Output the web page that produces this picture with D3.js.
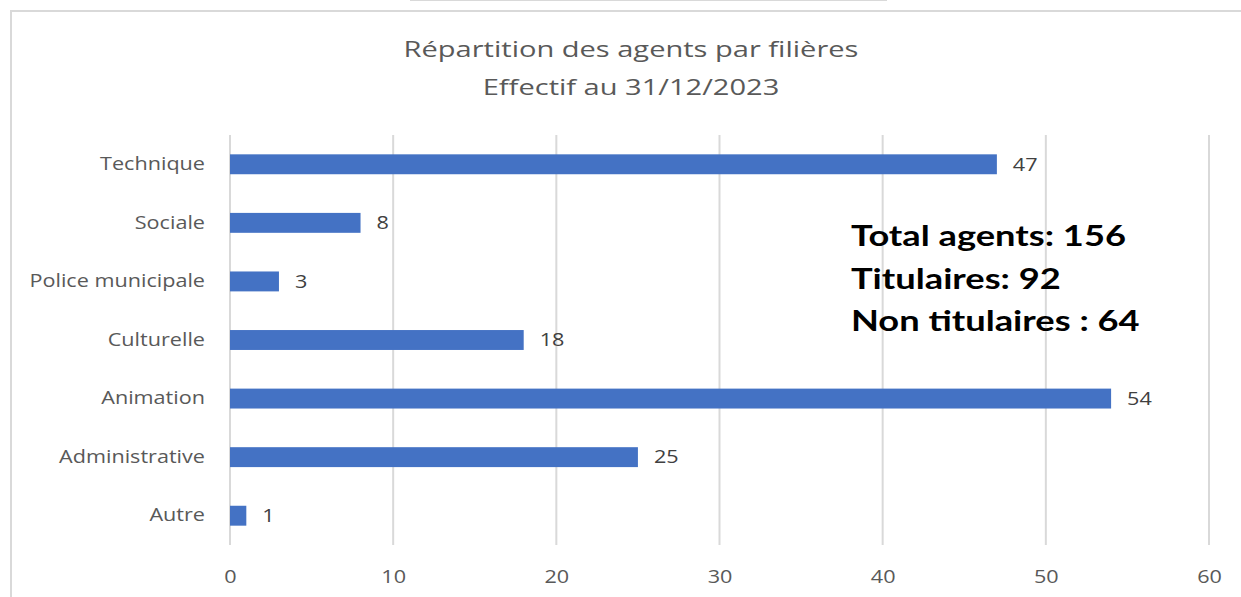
<!DOCTYPE html>
<html>
<head>
<meta charset="utf-8">
<script src="https://cdn.jsdelivr.net/npm/d3@7"></script>
<style>
    body { margin: 0; background: #fff; }
    #chart { width: 1241px; height: 597px; }
    text { font-family: "Open Sans", "Noto Sans", sans-serif; }
</style>
</head>
<body>
<div id="chart"></div>
<script>
// chart data
let categories = ["Technique", "Sociale", "Police municipale", "Culturelle", "Animation", "Administrative", "Autre"];
let values = [47, 8, 3, 18, 54, 25, 1];
let xTicks = [0, 10, 20, 30, 40, 50, 60];
let titleLines = ["Répartition des agents par filières", "Effectif au 31/12/2023"];
let notes = ["Total agents: 156", "Titulaires: 92", "Non titulaires : 64"];

let data = categories.map((c, i) => ({ name: c, value: values[i] }));

let margin = { top: 135, right: 32, bottom: 52, left: 230 };
let width = 1241 - margin.left - margin.right,
    height = 597 - margin.top - margin.bottom;

// the original picture is a bit wider than tall, so widen glyphs to match
function widen(sel, k) {
    sel.each(function() {
        let w = this.getComputedTextLength();
        d3.select(this)
            .attr("textLength", w * k)
            .attr("lengthAdjust", "spacingAndGlyphs");
    });
}

let root = d3.select("#chart").append("svg")
    .attr("width", 1241)
    .attr("height", 597);

// outer frame (left + top edges, the rest is cropped)
root.append("path")
    .attr("d", "M11,597 L11,11 L1241,11")
    .attr("fill", "none")
    .attr("stroke", "#d9d9d9")
    .attr("stroke-width", 2);

root.append("line")
    .attr("x1", 410).attr("x2", 887)
    .attr("y1", 0.5).attr("y2", 0.5)
    .attr("stroke", "#d9d9d9")
    .attr("stroke-width", 1);

// title
root.selectAll(".title")
    .data(titleLines)
    .enter().append("text")
    .attr("class", "title")
    .attr("x", 631)
    .attr("y", (d, i) => 57 + i * 38)
    .attr("text-anchor", "middle")
    .attr("font-size", 22)
    .attr("fill", "#595959")
    .text(d => d)
    .call(widen, 1.32);

let svg = root.append("g")
    .attr("transform", "translate(" + margin.left + "," + margin.top + ")");

// scales
let x = d3.scaleLinear()
    .domain([0, 60])
    .range([0, 979]);

let y = d3.scaleBand()
    .domain(categories)
    .range([0, height])
    .paddingInner(0.66)
    .paddingOuter(0.33);

// gridlines
svg.selectAll(".grid")
    .data(xTicks)
    .enter().append("line")
    .attr("class", "grid")
    .attr("x1", d => x(d)).attr("x2", d => x(d))
    .attr("y1", 0).attr("y2", height)
    .attr("stroke", "#d9d9d9")
    .attr("stroke-width", 2);

// x axis labels
let xAxis = d3.axisBottom(x)
    .tickValues(xTicks)
    .tickSize(0)
    .tickPadding(25);

svg.append("g")
    .attr("class", "x-axis")
    .attr("transform", "translate(0," + height + ")")
    .call(xAxis)
    .call(g => g.select(".domain").remove())
    .selectAll("text")
    .attr("font-family", "Open Sans")
    .attr("font-size", 18)
    .attr("fill", "#595959")
    .call(widen, 1.2);

// y axis labels
let yAxis = d3.axisLeft(y)
    .tickSize(0)
    .tickPadding(25);

svg.append("g")
    .attr("class", "y-axis")
    .call(yAxis)
    .call(g => g.select(".domain").remove())
    .selectAll("text")
    .attr("font-family", "Open Sans")
    .attr("font-size", 18)
    .attr("fill", "#595959")
    .call(widen, 1.2);

// bars
svg.selectAll(".bar")
    .data(data)
    .enter().append("rect")
    .attr("class", "bar")
    .attr("x", x(0))
    .attr("y", d => y(d.name))
    .attr("width", d => x(d.value) - x(0))
    .attr("height", y.bandwidth())
    .attr("fill", "#4472c4");

// value labels
svg.selectAll(".val")
    .data(data)
    .enter().append("text")
    .attr("class", "val")
    .attr("x", d => x(d.value) + 16)
    .attr("y", d => y(d.name) + y.bandwidth() / 2)
    .attr("dy", "0.35em")
    .attr("font-size", 18)
    .attr("fill", "#404040")
    .text(d => d.value)
    .call(widen, 1.2);

// annotation
root.selectAll(".note")
    .data(notes)
    .enter().append("text")
    .attr("class", "note")
    .attr("x", 851)
    .attr("y", (d, i) => 246 + i * 42.5)
    .style("font-family", "Lato, sans-serif")
    .attr("font-weight", "bold")
    .attr("font-size", 29)
    .attr("fill", "#000")
    .text(d => d)
    .call(widen, 1.25);
</script>
</body>
</html>
